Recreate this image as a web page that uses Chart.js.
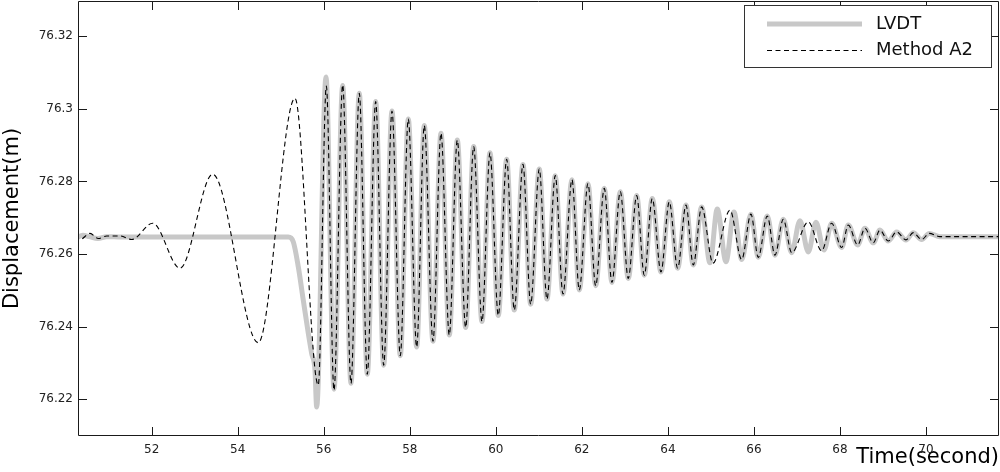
<!DOCTYPE html>
<html>
<head>
<meta charset="utf-8">
<script src="https://cdn.jsdelivr.net/npm/chart.js@4.4.1/dist/chart.umd.min.js"></script>
<style>
  html, body { margin: 0; padding: 0; background: #fff; }
</style>
</head>
<body>
<canvas id="graficoDeslocamento" width="1000" height="472"></canvas>
<script>
// Eixos
const xTicks = [52, 54, 56, 58, 60, 62, 64, 66, 68, 70];
const yTicks = [76.22, 76.24, 76.26, 76.28, 76.3, 76.32];

// LVDT (linha cinza grossa)
const lvdtTempo = [
  50.20, 50.40, 50.55, 50.75, 50.95, 51.30, 55.175, 55.291, 55.408, 55.524, 55.640, 55.719, 55.796, 55.835,
  56.052, 56.238, 56.440, 56.633, 56.826, 57.012, 57.207, 57.393, 57.586, 57.779,
  57.965, 58.160, 58.337, 58.539, 58.725, 58.918, 59.104, 59.299, 59.485, 59.678,
  59.864, 60.057, 60.252, 60.429, 60.631, 60.810, 61.010, 61.189, 61.382, 61.561,
  61.770, 61.940, 62.142, 62.321, 62.521, 62.700, 62.893, 63.079, 63.274, 63.451,
  63.637, 63.839, 64.032, 64.227, 64.420, 64.590, 64.785, 64.978, 65.148, 65.350,
  65.536, 65.715, 65.931, 66.100, 66.310, 66.489, 66.682, 66.877, 67.070, 67.263,
  67.442, 67.628, 67.807, 68.039, 68.193, 68.411, 68.581, 68.774, 68.929, 69.122,
  69.318, 69.534, 69.704, 69.899, 70.075, 70.324, 71.80
];
const lvdtDesl = [
  76.2640, 76.2652, 76.2648, 76.2643, 76.2648, 76.2647, 76.2647, 76.2634, 76.2565, 76.2473, 76.2382, 76.2326, 76.2280, 76.2179,
  76.3088, 76.2228, 76.3064, 76.2244, 76.3043, 76.2269, 76.3020, 76.2294, 76.2994, 76.2320,
  76.2972, 76.2344, 76.2954, 76.2360, 76.2933, 76.2377, 76.2914, 76.2398, 76.2896, 76.2414,
  76.2879, 76.2431, 76.2861, 76.2446, 76.2847, 76.2462, 76.2834, 76.2476, 76.2816, 76.2490,
  76.2805, 76.2501, 76.2794, 76.2513, 76.2781, 76.2522, 76.2772, 76.2533, 76.2761, 76.2542,
  76.2753, 76.2551, 76.2744, 76.2561, 76.2735, 76.2570, 76.2730, 76.2576, 76.2724, 76.2579,
  76.2716, 76.2585, 76.2710, 76.2591, 76.2705, 76.2597, 76.2696, 76.2604, 76.2692, 76.2606,
  76.2688, 76.2611, 76.2685, 76.2618, 76.2680, 76.2625, 76.2671, 76.2631, 76.2666, 76.2636,
  76.2661, 76.2639, 76.2659, 76.2640, 76.2657, 76.2648, 76.2648
];

// Method A2 (tracejado)
const metodoTempo = [
  50.20, 50.333, 50.566, 50.759, 50.954, 51.263, 51.535, 52.023, 52.658, 53.418, 54.478, 55.331, 55.873,
  56.060, 56.238, 56.440, 56.633, 56.826, 57.012, 57.207, 57.393, 57.586, 57.779,
  57.965, 58.160, 58.337, 58.539, 58.725, 58.918, 59.104, 59.299, 59.485, 59.678,
  59.864, 60.057, 60.252, 60.429, 60.631, 60.810, 61.010, 61.189, 61.382, 61.561,
  61.770, 61.940, 62.142, 62.321, 62.521, 62.700, 62.893, 63.079, 63.274, 63.451,
  63.637, 63.839, 64.032, 64.227, 64.420, 64.590, 64.785, 65.048, 65.443, 65.715,
  65.931, 66.100, 66.310, 66.489, 66.682, 66.877, 67.263, 67.574, 67.807, 68.039,
  68.193, 68.411, 68.581, 68.774, 68.929, 69.122, 69.318, 69.534, 69.704, 69.899,
  70.075, 70.324, 71.80
];
const metodoDesl = [
  76.2645, 76.2640, 76.2657, 76.2643, 76.2650, 76.2650, 76.2640, 76.2685, 76.2561, 76.2820, 76.2356, 76.3029, 76.2239,
  76.3063, 76.2225, 76.3066, 76.2244, 76.3043, 76.2269, 76.3020, 76.2294, 76.2994, 76.2320,
  76.2972, 76.2344, 76.2954, 76.2360, 76.2933, 76.2377, 76.2914, 76.2398, 76.2896, 76.2414,
  76.2879, 76.2431, 76.2861, 76.2446, 76.2847, 76.2462, 76.2834, 76.2476, 76.2816, 76.2490,
  76.2805, 76.2501, 76.2794, 76.2513, 76.2781, 76.2522, 76.2772, 76.2533, 76.2761, 76.2542,
  76.2753, 76.2551, 76.2744, 76.2561, 76.2735, 76.2570, 76.2730, 76.2575, 76.2721, 76.2585,
  76.2710, 76.2591, 76.2705, 76.2597, 76.2696, 76.2604, 76.2689, 76.2609, 76.2685, 76.2618,
  76.2680, 76.2625, 76.2671, 76.2631, 76.2666, 76.2636, 76.2661, 76.2639, 76.2659, 76.2640,
  76.2657, 76.2648, 76.2648
];

const fonte = "'DejaVu Sans', sans-serif";

// moldura com ticks para dentro (estilo MATLAB)
const molduraPlugin = {
  id: 'moldura',
  afterDatasetsDraw(chart) {
    const { ctx, chartArea: a, scales: { x, y } } = chart;
    ctx.save();
    ctx.strokeStyle = '#1a1a1a';
    ctx.lineWidth = 1;
    ctx.beginPath();
    ctx.rect(a.left + 0.5, a.top + 0.5, a.right - a.left - 1, a.bottom - a.top - 1);
    xTicks.forEach(v => {
      const px = Math.round(x.getPixelForValue(v)) + 0.5;
      ctx.moveTo(px, a.bottom); ctx.lineTo(px, a.bottom - 9);
      ctx.moveTo(px, a.top); ctx.lineTo(px, a.top + 9);
    });
    yTicks.forEach(v => {
      const py = Math.round(y.getPixelForValue(v)) + 0.5;
      ctx.moveTo(a.left, py); ctx.lineTo(a.left + 9, py);
      ctx.moveTo(a.right, py); ctx.lineTo(a.right - 9, py);
    });
    ctx.stroke();
    ctx.restore();
  }
};

// legenda dentro da área do gráfico, canto superior direito
const legendaPlugin = {
  id: 'legenda',
  afterDraw(chart) {
    const { ctx, chartArea: a } = chart;
    const w = 248, h = 63;
    const bx = Math.round(a.right - 7 - w), by = Math.round(a.top + 4);
    ctx.save();
    ctx.fillStyle = '#fff';
    ctx.fillRect(bx, by, w, h);
    ctx.strokeStyle = '#333';
    ctx.lineWidth = 1;
    ctx.strokeRect(bx + 0.5, by + 0.5, w - 1, h - 1);
    ctx.font = '18px ' + fonte;
    ctx.textBaseline = 'middle';
    chart.data.datasets.forEach((ds, i) => {
      const ly = by + 19 + i * 26.5;
      ctx.strokeStyle = ds.borderColor;
      ctx.lineWidth = ds.borderWidth;
      ctx.setLineDash(ds.borderDash || []);
      ctx.beginPath();
      ctx.moveTo(bx + 23, ly);
      ctx.lineTo(bx + 118, ly);
      ctx.stroke();
      ctx.setLineDash([]);
      ctx.fillStyle = '#111';
      ctx.fillText(ds.label, bx + 132, ly);
    });
    ctx.restore();
  }
};

const ctxDesl = document.getElementById('graficoDeslocamento').getContext('2d');
new Chart(ctxDesl, {
  type: 'line',
  data: {
    datasets: [{
      label: 'LVDT',
      data: lvdtTempo.map((t, i) => ({ x: t, y: lvdtDesl[i] })),
      borderColor: '#c8c8c8',
      borderWidth: 5,
      pointRadius: 0,
      cubicInterpolationMode: 'monotone',
      order: 2
    }, {
      label: 'Method A2',
      data: metodoTempo.map((t, i) => ({ x: t, y: metodoDesl[i] })),
      borderColor: '#000',
      borderWidth: 1.1,
      borderDash: [5, 3.5],
      pointRadius: 0,
      cubicInterpolationMode: 'monotone',
      order: 1
    }]
  },
  options: {
    responsive: false,
    animation: false,
    layout: { padding: { left: 0, right: 1, top: 1, bottom: 0 } },
    plugins: {
      legend: { display: false },
      tooltip: { enabled: false }
    },
    scales: {
      x: {
        type: 'linear',
        min: 50.287,
        max: 71.697,
        afterBuildTicks: s => { s.ticks = xTicks.map(v => ({ value: v })); },
        afterFit: s => { s.height = 36; s.paddingLeft = 0; s.paddingRight = 0; },
        grid: { display: false, drawTicks: false },
        border: { display: false },
        ticks: { color: '#222', font: { family: fonte, size: 12 }, padding: 7, maxRotation: 0, autoSkip: false },
        title: { display: true, text: 'Time(second)', align: 'end', color: '#000', font: { family: fonte, size: 21 }, padding: { top: 0, bottom: 2 } }
      },
      y: {
        min: 76.2099,
        max: 76.3297,
        afterBuildTicks: s => { s.ticks = yTicks.map(v => ({ value: v })); },
        afterFit: s => { s.width = 78; s.paddingTop = 0; s.paddingBottom = 0; },
        grid: { display: false, drawTicks: false },
        border: { display: false },
        ticks: { color: '#222', font: { family: fonte, size: 12 }, padding: 5, callback: v => String(+v.toFixed(2)) },
        title: { display: true, text: 'Displacement(m)', color: '#000', font: { family: fonte, size: 21 }, padding: { top: 0, bottom: 0 } }
      }
    }
  },
  plugins: [molduraPlugin, legendaPlugin]
});
</script>
</body>
</html>
